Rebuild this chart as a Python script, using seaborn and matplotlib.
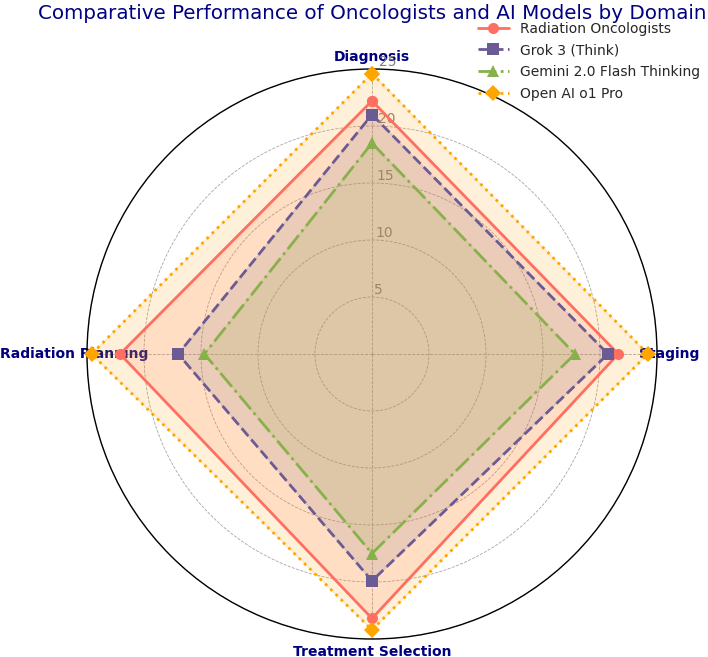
import numpy as np
import pandas as pd
import matplotlib.pyplot as plt
import seaborn as sns

sns.set_style("white")

domains = ["Diagnosis", "Staging", "Treatment Selection", "Radiation Planning"]
models = ["Radiation Oncologists", "Grok 3 (Think)", "Gemini 2.0 Flash Thinking", "Open AI o1 Pro"]
rad_onc = [22.2, 21.6, 23.2, 22.1]
grok = [21.0, 20.7, 19.9, 17.0]
gemini = [18.5, 17.8, 17.5, 14.7]
openai = [24.6, 24.2, 24.2, 24.6]
r_ticks = [5, 10, 15, 20, 25]

colors = ["#FF6F61", "#6B5B95", "#88B04B", "#FFA500"]
styles = ["-", "--", "-.", ":"]
marks = ["o", "s", "^", "D"]

angles = np.linspace(0, 2 * np.pi, len(domains), endpoint=False)
theta = np.append(angles, 2 * np.pi)

fig = plt.figure(figsize=(7.08, 6.57), dpi=100)
ax = fig.add_axes([87 / 708, 18 / 657, 570 / 708, 570 / 657], projection="polar")
ax.set_theta_offset(np.pi / 2)
ax.set_theta_direction(-1)

for name, vals, c, ls, mk in zip(models, [rad_onc, grok, gemini, openai], colors, styles, marks):
    r = np.append(vals, vals[0])
    df = pd.DataFrame({"theta": theta, "r": r})
    sns.lineplot(data=df, x="theta", y="r", ax=ax, sort=False, estimator=None,
                 color=c, linestyle=ls, linewidth=2, marker=mk, markersize=8,
                 markeredgewidth=0, label=name, zorder=3, clip_on=False)
    ax.fill(theta, r, color=c, alpha=0.15, zorder=2)

ax.set_ylim(0, 25)
ax.set_yticks(r_ticks)
ax.set_yticklabels([str(t) for t in r_ticks], color="gray", fontsize=10)
ax.set_rlabel_position(1.5)
ax.set_xticks(angles)
ax.set_xticklabels(domains, fontsize=10, fontweight="bold", color="navy")
ax.tick_params(axis="x", pad=-1.5)
ax.set_xlabel("")
ax.set_ylabel("")
ax.grid(True, color="gray", linestyle="--", linewidth=0.6, alpha=0.7)
ax.spines["polar"].set_color("black")
ax.spines["polar"].set_linewidth(1.0)

ax.set_title("Comparative Performance of Oncologists and AI Models by Domain",
             fontsize=14.3, color="navy", pad=36)
ax.legend(loc="upper right", bbox_to_anchor=(1.097, 1.105), frameon=False, fontsize=10,
          handlelength=2.2, labelspacing=0.55)

plt.savefig("out.png", dpi=100)
